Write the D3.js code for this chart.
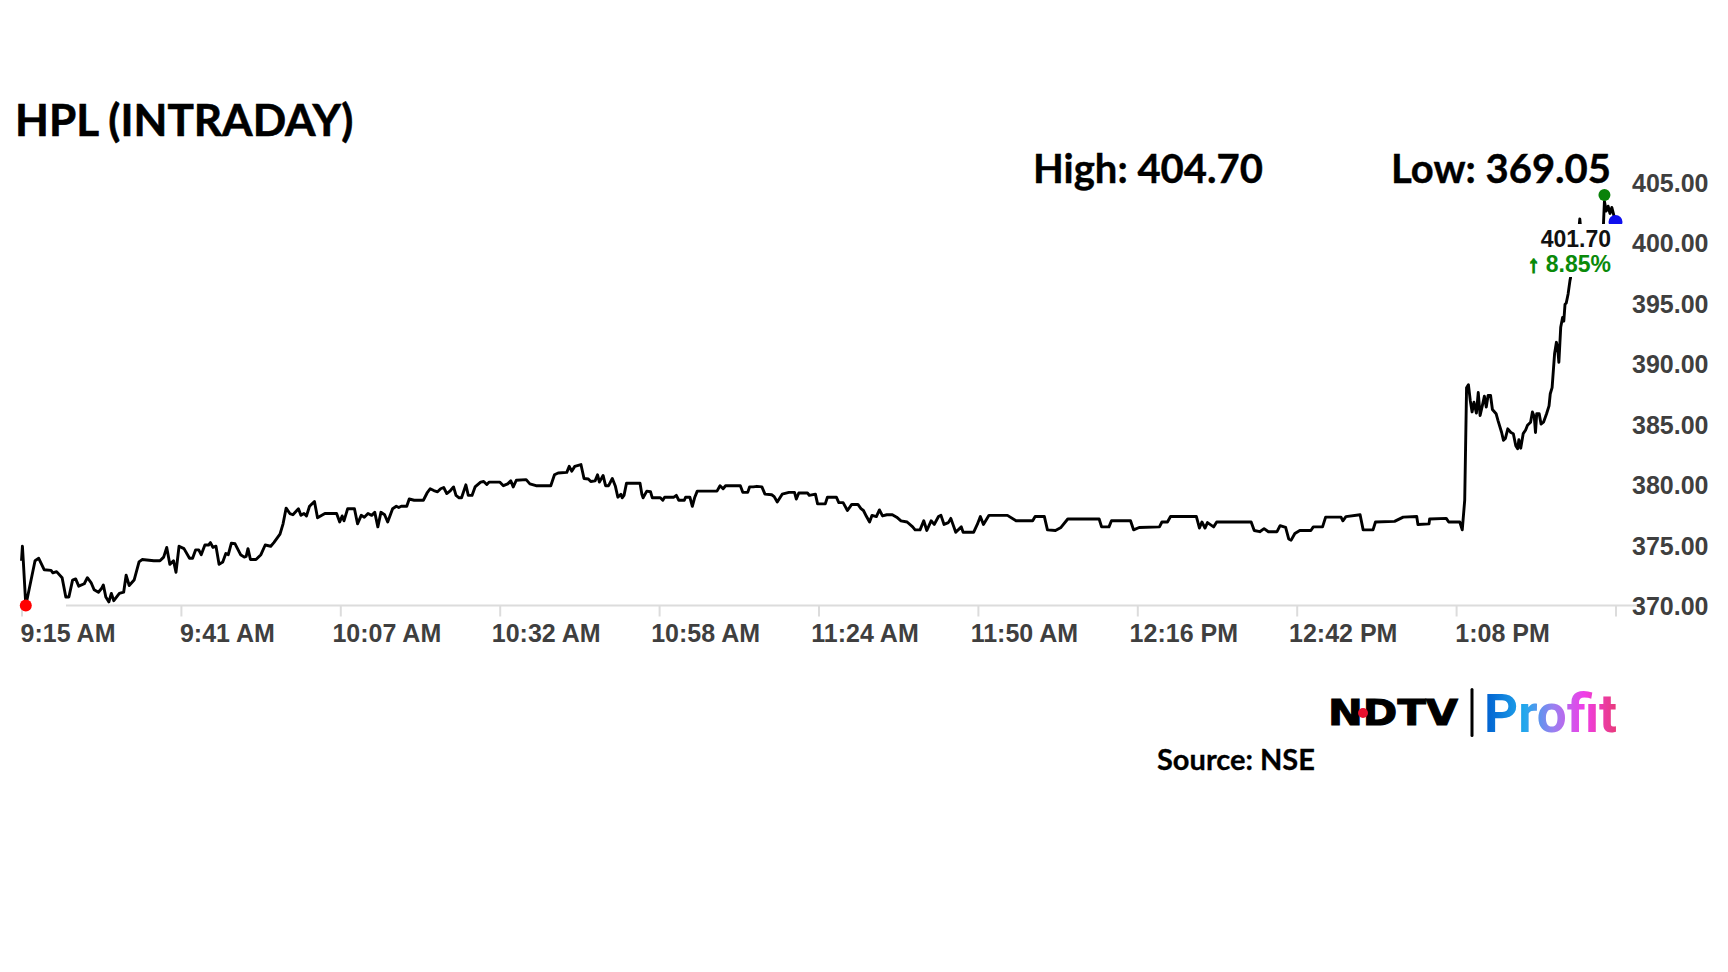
<!DOCTYPE html>
<html lang="en">
<head>
<meta charset="UTF-8">
<title>HPL (INTRADAY)</title>
<script src="https://d3js.org/d3.v7.min.js"></script>
<style>
  body { margin: 0; background: #fff; }
  svg { display: block; }
</style>
</head>
<body>
<svg width="1728" height="972" id="chart"></svg>
<script>
// ---- data ----
const title = "HPL (INTRADAY)";
const dayHigh = 404.70;
const dayLow = 369.05;
const lastPrice = 401.70;
const changePct = 8.85;
const source = "Source: NSE";

// minutes after 9:15 AM
const minutes = [
  0, 0.15, 0.3, 0.7, 2.2, 2.8, 3.7, 4.8, 5.1, 5.7, 6.6, 7.2, 7.7, 8.3, 8.8, 9.3, 10.2, 10.7, 11.3, 11.8,
  12.5, 13.0, 13.3, 13.7, 14.2, 14.6, 15.0, 15.9, 16.6, 17.0, 17.5, 18.3, 19.1, 19.6, 21.5, 22.5, 23.1, 23.6, 24.1, 24.7,
  25.1, 25.6, 26.4, 27.3, 27.8, 28.3, 28.8, 29.2, 29.8, 30.4, 30.7, 31.1, 31.6, 32.1, 32.7, 33.2, 33.6, 34.1, 34.7, 35.6,
  36.2, 36.5, 36.8, 37.2, 38.1, 38.9, 39.6, 40.5, 41.0, 42.0, 42.5, 43.0, 43.6, 44.1, 45.0, 45.4, 45.9, 46.3, 46.8, 47.6,
  48.1, 48.8, 49.3, 51.2, 51.7, 52.1, 52.4, 53.0, 54.1, 54.6, 55.2, 55.7, 56.3, 56.9, 57.4, 57.9, 58.4, 59.0, 59.5, 60.3,
  60.9, 61.3, 61.7, 62.6, 63.0, 63.8, 65.3, 65.9, 66.4, 67.0, 67.6, 68.1, 68.6, 69.1, 69.7, 70.2, 70.6, 71.1, 71.5, 72.2,
  72.6, 73.2, 73.7, 74.6, 75.1, 75.6, 76.0, 77.7, 78.3, 79.0, 79.5, 79.9, 80.4, 82.0, 82.6, 83.6, 86.0, 86.6, 87.2, 88.6,
  89.0, 89.4, 89.9, 90.9, 91.4, 92.1, 92.5, 93.2, 93.6, 93.9, 94.5, 94.9, 95.4, 96.0, 96.5, 96.9, 97.4, 97.6, 97.9, 98.3,
  100.5, 100.8, 101.0, 101.6, 102.2, 102.5, 103.8, 104.2, 104.5, 106.0, 106.4, 106.8, 107.7, 107.9, 108.6, 109.0, 109.4, 109.8, 113.0, 113.5,
  114.0, 114.4, 116.8, 117.2, 118.0, 118.3, 118.9, 119.5, 120.3, 120.8, 121.9, 122.3, 122.8, 123.6, 124.7, 125.6, 125.9, 126.3, 127.7, 128.0,
  129.0, 129.35, 130.6, 130.95, 132.4, 132.8, 133.5, 134.2, 134.9, 135.9, 136.4, 136.8, 137.3, 137.8, 138.2, 138.9, 139.4, 139.9, 140.6, 141.5,
  142.2, 142.9, 143.9, 144.8, 145.2, 146.0, 146.6, 147.1, 147.8, 148.3, 149.0, 149.4, 149.9, 150.6, 151.0, 151.8, 152.7, 153.0, 154.7, 155.3,
  155.8, 156.3, 157.2, 160.2, 161.6, 164.3, 164.7, 166.2, 166.7, 168.0, 168.9, 170.0, 175.1, 175.5, 176.7, 177.1, 180.2, 180.7, 181.6, 184.9,
  185.3, 186.2, 186.7, 190.9, 191.4, 191.8, 192.3, 192.7, 193.7, 194.2, 199.8, 200.3, 201.2, 201.9, 202.6, 204.0, 204.5, 205.4, 205.9, 206.3,
  206.9, 207.7, 209.5, 209.9, 211.4, 211.9, 214.4, 214.7, 215.2, 217.5, 218.0, 219.6, 220.0, 223.1, 224.5, 226.7, 226.9, 228.7, 228.8, 231.5,
  231.9, 233.7, 234.1, 234.5, 234.8, 235.1, 235.4, 235.7, 236.0, 236.4, 236.7, 237.0, 237.4, 237.7, 238.0, 238.3, 238.7, 239.0, 239.6, 239.9,
  240.5, 240.8, 241.1, 241.5, 242.0, 242.4, 242.8, 243.1, 243.3, 243.6, 244.0, 244.4, 244.7, 245.2, 245.5, 245.8, 246.0, 246.2, 246.6, 246.9,
  247.3, 247.8, 248.2, 248.4, 248.7, 248.8, 249.1, 249.4, 249.6, 249.8, 250.1, 250.4, 250.6, 250.8, 251.0, 251.3, 251.6, 251.7, 252.0, 252.5,
  253.0, 253.2, 253.4, 254.5, 255.5, 256.5, 257.0, 257.2, 257.5, 257.8, 258.1, 258.4, 258.7, 259.0
];

const prices = [
  373.7, 374.9, 373.6, 370.0, 373.7, 373.9, 372.95, 372.9, 372.7, 372.8, 372.3, 370.7, 370.7, 372.1, 372.2, 371.6, 371.8, 372.3, 371.9, 371.3,
  371.1, 371.4, 371.7, 370.7, 370.3, 371.0, 370.4, 371.0, 371.1, 372.5, 371.65, 372.1, 373.6, 373.8, 373.7, 373.7, 374.0, 374.8, 373.4, 373.7,
  372.75, 374.9, 374.7, 373.9, 373.9, 374.6, 374.6, 374.2, 375.0, 375.0, 375.2, 374.8, 374.9, 373.4, 373.6, 374.3, 374.2, 375.15, 375.1, 374.2,
  374.0, 374.05, 374.7, 373.8, 373.8, 374.2, 375.0, 374.9, 375.2, 375.9, 376.75, 378.05, 377.6, 377.5, 378.0, 377.45, 377.6, 377.4, 378.2, 378.6,
  377.25, 377.45, 377.6, 377.6, 376.9, 377.4, 377.0, 378.0, 378.0, 376.75, 377.45, 377.3, 377.6, 377.45, 377.7, 376.5, 377.7, 377.5, 376.9, 378.0,
  378.2, 378.1, 378.2, 378.2, 378.8, 378.7, 378.7, 379.3, 379.65, 379.5, 379.4, 379.65, 379.75, 379.25, 379.5, 379.8, 379.1, 378.9, 378.9, 379.97,
  379.1, 379.1, 379.8, 380.2, 380.25, 380.0, 380.2, 380.2, 379.9, 380.05, 380.3, 379.8, 380.35, 380.4, 380.05, 379.9, 379.9, 380.8, 380.95, 381.0,
  381.5, 381.1, 381.5, 381.65, 380.5, 380.45, 380.25, 380.3, 380.8, 380.2, 380.75, 379.9, 379.9, 380.5, 379.85, 378.95, 379.2, 378.9, 379.1, 380.1,
  380.1, 379.2, 378.9, 379.45, 379.4, 378.9, 378.9, 378.7, 378.95, 378.95, 379.1, 378.7, 378.7, 378.95, 378.95, 378.2, 378.95, 379.45, 379.45, 379.9,
  379.65, 379.9, 379.9, 379.35, 379.35, 379.8, 379.8, 379.85, 379.8, 379.2, 379.15, 379.0, 378.55, 379.2, 379.35, 379.35, 378.8, 379.3, 379.3, 379.1,
  379.2, 378.4, 378.4, 378.95, 378.95, 378.5, 378.5, 377.85, 378.35, 378.35, 378.0, 377.85, 377.35, 376.9, 377.45, 377.35, 377.9, 377.4, 377.5, 377.5,
  377.3, 377.0, 376.9, 376.5, 376.25, 376.25, 377.0, 376.2, 377.0, 376.7, 377.35, 377.45, 376.7, 376.85, 377.2, 376.05, 376.5, 376.05, 376.05, 376.7,
  377.35, 376.7, 377.45, 377.45, 377.0, 377.0, 377.35, 377.35, 376.25, 376.2, 376.45, 377.15, 377.15, 376.5, 376.5, 377.0, 377.0, 376.25, 376.45, 376.5,
  376.9, 376.9, 377.35, 377.35, 376.4, 376.9, 376.4, 376.85, 376.5, 376.9, 376.9, 376.2, 376.1, 376.35, 376.1, 376.1, 376.6, 376.45, 375.5, 375.4,
  375.95, 376.2, 376.2, 376.5, 376.5, 377.3, 377.3, 377.0, 377.35, 377.5, 376.25, 376.25, 376.9, 376.95, 377.3, 377.35, 376.7, 376.75, 377.15, 377.2,
  376.9, 376.9, 376.25, 378.7, 388.0, 388.25, 386.95, 386.0, 386.8, 385.9, 387.6, 385.7, 386.6, 387.3, 386.4, 387.35, 387.35, 386.2, 385.85, 385.3,
  384.3, 383.65, 383.8, 384.6, 384.3, 384.2, 383.2, 382.95, 383.7, 383.0, 384.2, 384.5, 384.9, 385.15, 386.0, 385.6, 384.3, 385.85, 385.85, 385.0,
  385.15, 385.85, 386.5, 387.5, 388.0, 388.7, 390.8, 391.75, 391.3, 390.1, 393.0, 393.8, 393.5, 394.9, 395.0, 395.75, 396.85, 397.1, 398.5, 400.2,
  400.8, 401.95, 400.8, 400.6, 400.9, 400.7, 401.0, 403.4, 402.6, 403.0, 402.4, 402.9, 402.3, 401.7
];

const sessionMinutes = 259;
const xTickLabels = ["9:15 AM", "9:41 AM", "10:07 AM", "10:32 AM", "10:58 AM", "11:24 AM",
                     "11:50 AM", "12:16 PM", "12:42 PM", "1:08 PM", ""];
const yTicks = [370, 375, 380, 385, 390, 395, 400, 405];

// ---- layout ----
const svg = d3.select("#chart");
const axisFont = "'Liberation Sans', Arial, sans-serif";
const headFont = "Lato, 'Open Sans', sans-serif";
const plotTop = 195, plotBottom = 605.5;

const x = d3.scaleLinear().domain([0, sessionMinutes]).range([21.5, 1615.5]);
const y = d3.scaleLinear().domain([370, 405]).range([plotBottom, 182]);

const series = minutes.map((m, i) => ({ m, p: prices[i] }));
const defs = svg.append("defs");

// title
svg.append("text")
  .attr("x", 15).attr("y", 136)
  .attr("font-family", headFont).attr("font-weight", 700).attr("font-size", 44)
  .attr("fill", "#000").attr("stroke", "#000").attr("stroke-width", 0.6)
  .text(title);

// high / low
svg.append("text")
  .attr("x", 1033).attr("y", 183)
  .attr("font-family", headFont).attr("font-weight", 700).attr("font-size", 40)
  .attr("stroke", "#000").attr("stroke-width", 0.4)
  .text(`High: ${dayHigh.toFixed(2)}`);
svg.append("text")
  .attr("x", 1611).attr("y", 183).attr("text-anchor", "end")
  .attr("font-family", headFont).attr("font-weight", 700).attr("font-size", 40)
  .attr("stroke", "#000").attr("stroke-width", 0.4)
  .text(`Low: ${dayLow.toFixed(2)}`);

// x axis line (starts a little in from the first tick, like the original)
svg.append("line")
  .attr("x1", 66).attr("x2", 1640)
  .attr("y1", plotBottom).attr("y2", plotBottom)
  .attr("stroke", "#dcdcdc").attr("stroke-width", 2);

const xTickVals = d3.range(xTickLabels.length).map(k => k * sessionMinutes / (xTickLabels.length - 1));
const xAxis = svg.append("g")
  .attr("transform", `translate(0,${plotBottom})`)
  .call(d3.axisBottom(x).tickValues(xTickVals).tickSize(11).tickPadding(0)
        .tickFormat((d, i) => xTickLabels[i]));
xAxis.select(".domain").remove();
xAxis.selectAll(".tick line").attr("stroke", "#dcdcdc").attr("stroke-width", 2);
xAxis.selectAll(".tick text")
  .attr("x", 46).attr("y", 36).attr("dy", 0)
  .attr("font-family", axisFont).attr("font-weight", 700).attr("font-size", 25)
  .attr("fill", "#3f3f3f");

// y axis labels on the right
const yAxis = svg.append("g")
  .attr("transform", "translate(1632,0)")
  .call(d3.axisRight(y).tickValues(yTicks).tickSize(0).tickPadding(0).tickFormat(d3.format(".2f")));
yAxis.select(".domain").remove();
yAxis.selectAll(".tick text")
  .attr("dy", "0.36em")
  .attr("font-family", axisFont).attr("font-weight", 700).attr("font-size", 25)
  .attr("fill", "#3f3f3f");

// price line
const line = d3.line().x(d => x(d.m)).y(d => y(d.p));
svg.append("path")
  .datum(series)
  .attr("d", line)
  .attr("fill", "none")
  .attr("stroke", "#000")
  .attr("stroke-width", 2.9)
  .attr("stroke-linejoin", "round");

// markers: high, low (kept inside the plot band), last
const hi = series[d3.maxIndex(series, d => d.p)];
const lo = series[d3.minIndex(series, d => d.p)];
const last = series[series.length - 1];

svg.append("circle")
  .attr("cx", x(hi.m)).attr("cy", Math.max(y(dayHigh), plotTop)).attr("r", 6)
  .attr("fill", "#0a820a");
svg.append("circle")
  .attr("cx", x(lo.m)).attr("cy", Math.min(y(dayLow), plotBottom)).attr("r", 6)
  .attr("fill", "#ff0000");
svg.append("circle")
  .attr("cx", x(last.m)).attr("cy", y(lastPrice)).attr("r", 7)
  .attr("fill", "#1010ee");

// last value label with white backing (sits over the end of the line)
const lbl = svg.append("g");
const t1 = lbl.append("text")
  .attr("x", 1611).attr("y", 247).attr("text-anchor", "end")
  .attr("font-family", axisFont).attr("font-weight", 700).attr("font-size", 23)
  .attr("fill", "#111")
  .text(lastPrice.toFixed(2));
const t2 = lbl.append("text")
  .attr("x", 1611).attr("y", 272).attr("text-anchor", "end")
  .attr("font-family", axisFont).attr("font-weight", 700).attr("font-size", 23)
  .attr("fill", "#0a8a0a");
t2.append("tspan").attr("stroke", "#0a8a0a").attr("stroke-width", 1.6).text("\u2191");
t2.append("tspan").text(` ${changePct.toFixed(2)}%`);
const b1 = t1.node().getBBox(), b2 = t2.node().getBBox();
const bx0 = Math.min(b1.x, b2.x) - 3;
lbl.insert("rect", "text")
  .attr("x", bx0).attr("y", b1.y - 2)
  .attr("width", 1628 - bx0).attr("height", b2.y + b2.height - b1.y + 2)
  .attr("fill", "#fff");

// NDTV Profit logo
const logo = svg.append("g");
logo.append("text")
  .attr("x", 1328).attr("y", 725)
  .attr("font-family", "'DejaVu Sans', sans-serif").attr("font-weight", 700).attr("font-size", 35)
  .attr("textLength", 130).attr("lengthAdjust", "spacingAndGlyphs")
  .attr("fill", "#000").attr("stroke", "#000").attr("stroke-width", 1)
  .text("NDTV");
logo.append("circle").attr("cx", 1363).attr("cy", 713).attr("r", 5).attr("fill", "#e8112d");
logo.append("rect").attr("x", 1470.5).attr("y", 688).attr("width", 3).attr("height", 49).attr("rx", 1.5).attr("fill", "#000");

const grad = defs.append("linearGradient")
  .attr("id", "profitGrad").attr("gradientUnits", "userSpaceOnUse")
  .attr("x1", 1485).attr("x2", 1617).attr("y1", 0).attr("y2", 0);
[["0", "#0060d0"], ["0.3", "#22a8ec"], ["0.52", "#9a80f0"], ["0.75", "#f03ee8"], ["1", "#e83a78"]]
  .forEach(([o, c]) => grad.append("stop").attr("offset", o).attr("stop-color", c));
logo.append("text")
  .attr("x", 1484).attr("y", 732)
  .attr("font-family", "Roboto, sans-serif").attr("font-weight", 700).attr("font-size", 53)
  .attr("fill", "url(#profitGrad)")
  .text("Profit");

// source
svg.append("text")
  .attr("x", 1157).attr("y", 770)
  .attr("font-family", headFont).attr("font-weight", 700).attr("font-size", 29)
  .attr("stroke", "#000").attr("stroke-width", 0.3)
  .text(source);
</script>
</body>
</html>
